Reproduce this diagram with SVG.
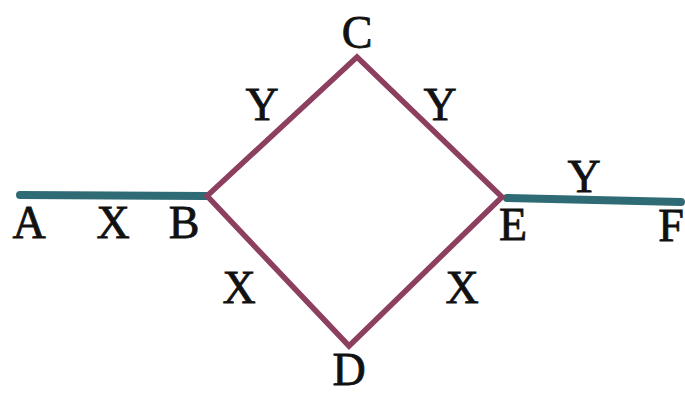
<svg xmlns="http://www.w3.org/2000/svg" width="685" height="396" viewBox="0 0 685 396">
<style>
.lbl{font-family:"Liberation Serif","Times New Roman",serif;font-size:46px;fill:#111;stroke:#111;stroke-width:0.8;text-anchor:middle}
.wire{stroke:#2f6b74;stroke-width:8;stroke-linecap:round;fill:none}
.dia{stroke:#8c3f5e;stroke-width:5.5;fill:none;stroke-linejoin:miter}
</style>
<rect width="685" height="396" fill="#fff"/>
<g id="connectors">
<line class="wire" x1="20" y1="195" x2="206" y2="196"/>
<path class="wire" d="M507 198 L681 202"/>
<path class="dia" d="M207 196 L357 57 L502 197 L349 346 Z"/>
</g>
<g id="A"><text class="lbl" x="29" y="238">A</text></g>
<g id="X1"><text class="lbl" x="113" y="238">X</text></g>
<g id="B"><text class="lbl" x="184" y="238">B</text></g>
<g id="C"><text class="lbl" x="357" y="48">C</text></g>
<g id="D"><text class="lbl" x="349" y="385">D</text></g>
<g id="E"><text class="lbl" x="513" y="240">E</text></g>
<g id="F"><text class="lbl" x="671" y="241">F</text></g>
<g id="Y1"><text class="lbl" x="262" y="120">Y</text></g>
<g id="Y2"><text class="lbl" x="440" y="120">Y</text></g>
<g id="Y3"><text class="lbl" x="584" y="192">Y</text></g>
<g id="X2"><text class="lbl" x="239" y="303">X</text></g>
<g id="X3"><text class="lbl" x="462" y="303">X</text></g>
</svg>
